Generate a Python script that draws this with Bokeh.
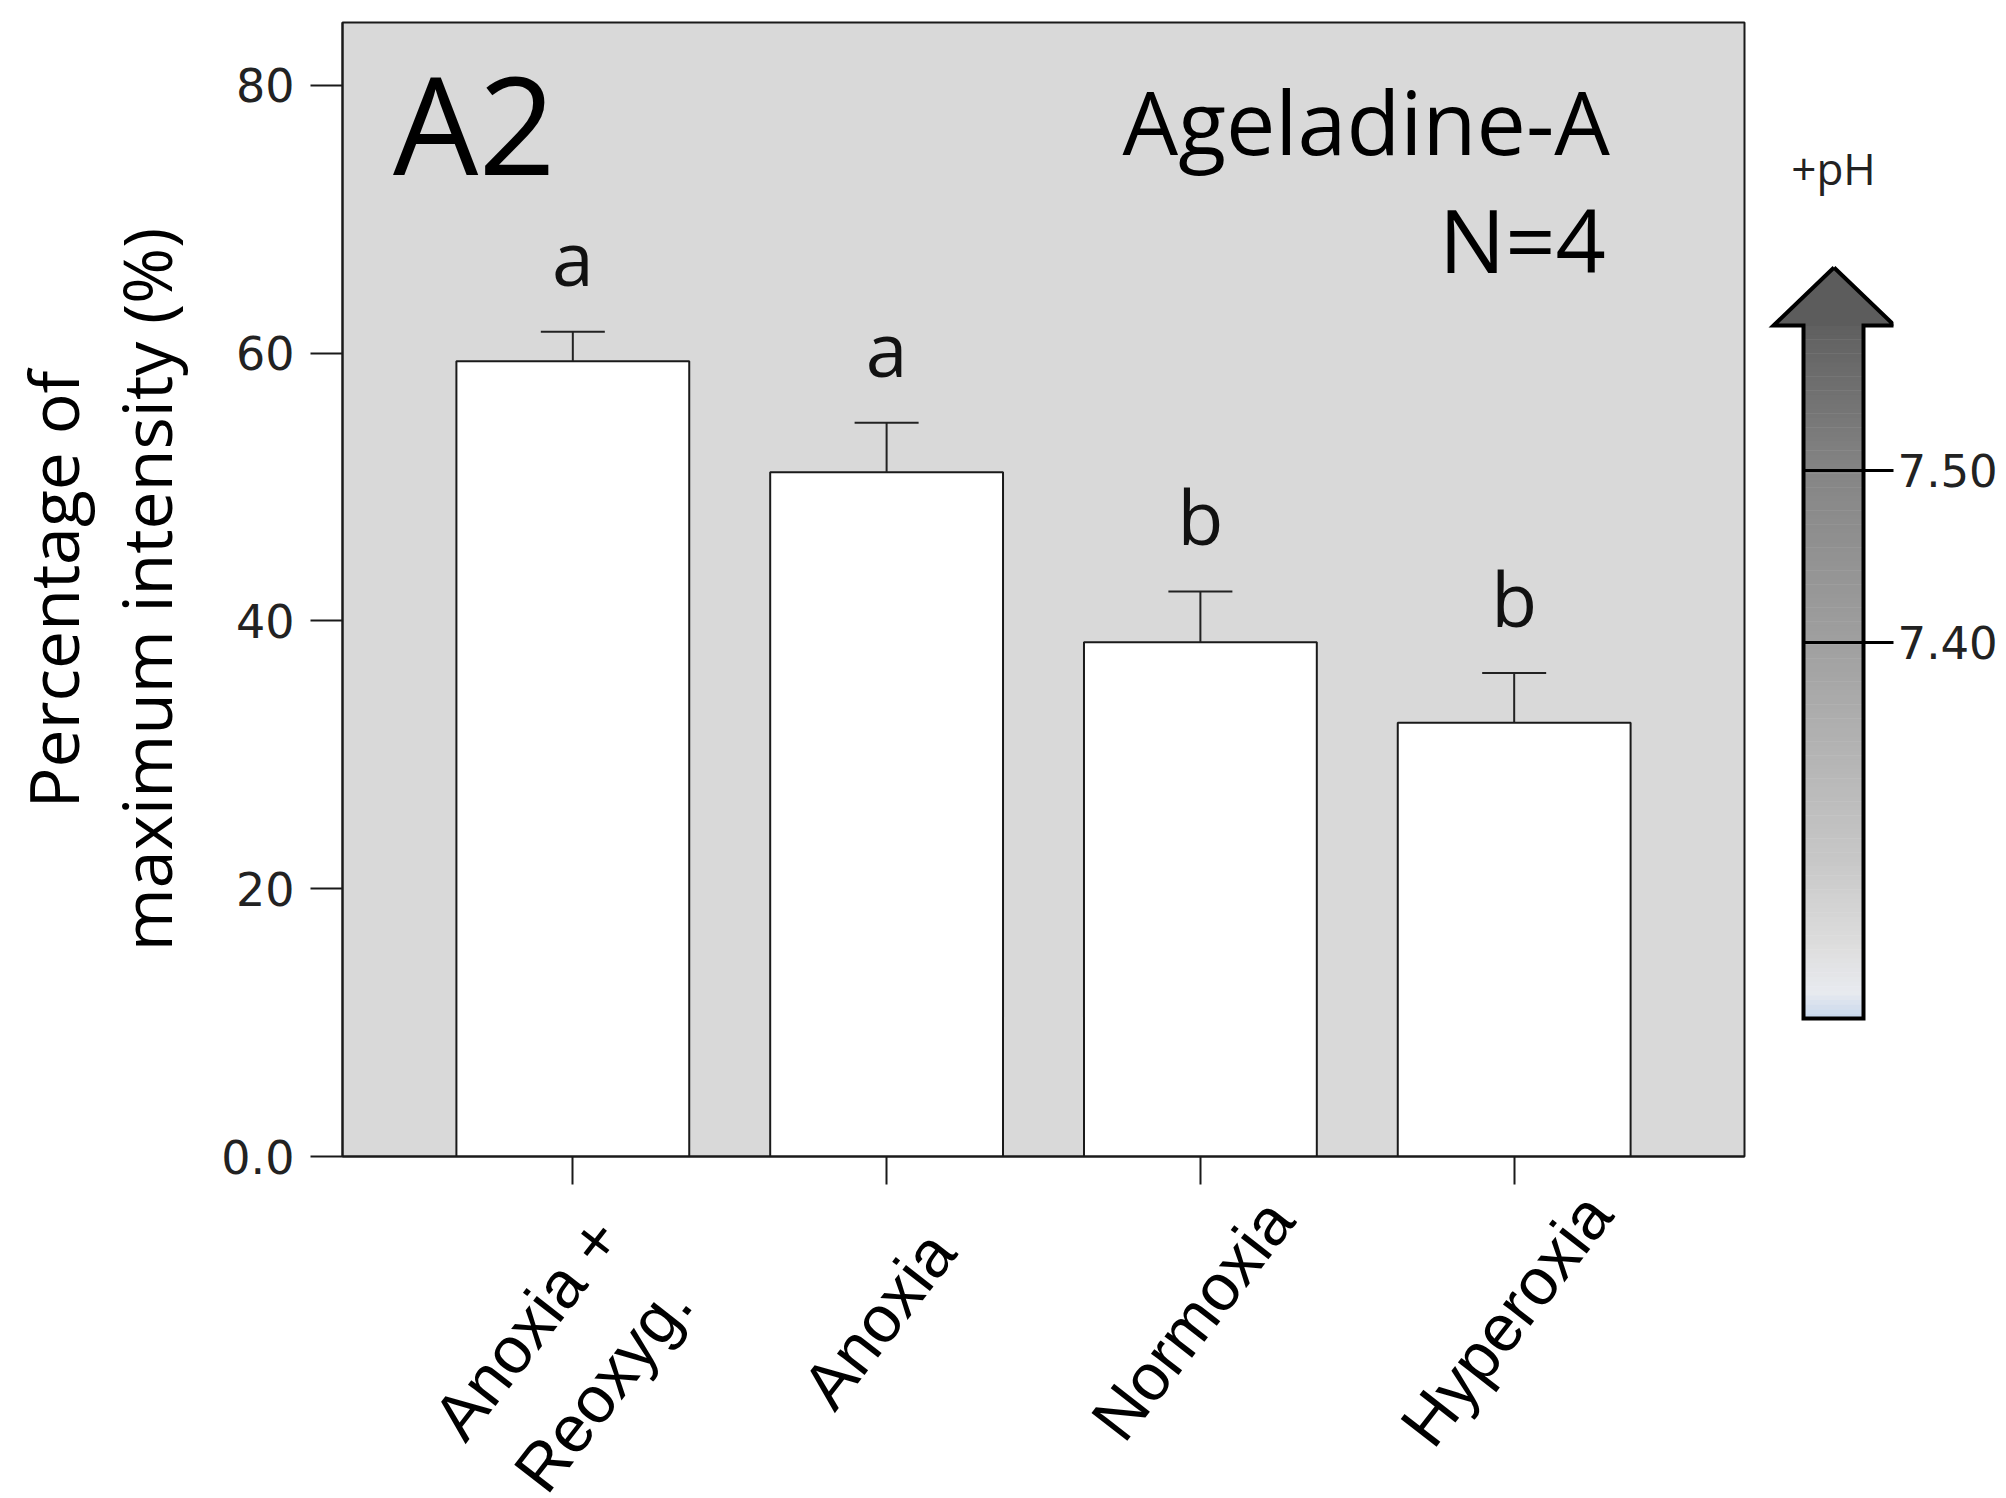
import numpy as np
from bokeh.plotting import figure
from bokeh.models import (Range1d, FactorRange, FixedTicker, Whisker, TeeHead, Label,
                          ColumnDataSource, NumeralTickFormatter)
from bokeh.layouts import row, column
from bokeh.embed import file_html
from bokeh.resources import INLINE
from bokeh.core.properties import value

# ---------------- data ----------------
categories = ["Anoxia +\nReoxyg.", "Anoxia", "Normoxia", "Hyperoxia"]
means = [59.4, 51.1, 38.4, 32.4]
sems = [2.2, 3.7, 3.8, 3.7]
letters = ["a", "a", "b", "b"]
y_ticks = [0, 20, 40, 60, 80]
ph_ticks = [7.40, 7.50]

# ---------------- layout constants ----------------
TOP, LEFT = 22, 342
FRAME_W, FRAME_H = 1402, 1134
BOTTOM = 40                  # space under main frame (ticks)
PAGE_H = 1498
Y_END = 84.69
LABEL_ANGLE = 0.91           # rotation of category labels (rad)
LABEL_DROP = 163             # px from axis to centre of a one-line category label
LABEL_LINE_DROP = 38         # extra px for each further line
R_H = PAGE_H - (TOP + FRAME_H + BOTTOM)

upper = [m + s for m, s in zip(means, sems)]
label_y = [LABEL_DROP + LABEL_LINE_DROP * c.count("\n") - BOTTOM for c in categories]
src = ColumnDataSource(dict(cat=categories, mean=means, upper=upper, letter=letters,
                            label_y=label_y))

# ---------------- main panel ----------------
p = figure(frame_width=FRAME_W, frame_height=FRAME_H,
           min_border_left=LEFT, min_border_right=4, min_border_top=TOP,
           min_border_bottom=BOTTOM,
           x_range=FactorRange(factors=categories, range_padding=0.234,
                               range_padding_units="absolute"),
           y_range=Range1d(0, Y_END),
           output_backend="svg", toolbar_location=None)
p.background_fill_color = "#d9d9d9"
p.border_fill_color = "white"
p.outline_line_color = "#1a1a1a"
p.outline_line_width = 2
p.xgrid.visible = False
p.ygrid.visible = False

p.vbar(x="cat", top="mean", width=0.742, source=src,
       fill_color="white", line_color="#1a1a1a", line_width=2)

p.add_layout(Whisker(base="cat", lower="mean", upper="upper", source=src,
                     line_color="#222222", line_width=2,
                     upper_head=TeeHead(size=64, line_color="#222222", line_width=2),
                     lower_head=None, level="glyph"))

p.text(x="cat", y="upper", text="letter", source=src,
       text_font=value("Open Sans"), text_font_size="75px", text_color="#111111",
       text_align="center", text_baseline="middle", y_offset=-75)

p.add_layout(Label(x=-0.073, y=77.15, text="A2", text_font="Open Sans",
                   text_font_size="135px", text_color="black",
                   text_align="left", text_baseline="middle"))
p.add_layout(Label(x=3.805, y=77.3, text="Ageladine-A", text_font="Open Sans",
                   text_font_size="88px", text_color="black",
                   text_align="right", text_baseline="middle"))
p.add_layout(Label(x=3.792, y=68.5, text="N=4", text_font="Open Sans",
                   text_font_size="88px", text_color="black",
                   text_align="right", text_baseline="middle"))

# y axis
p.yaxis.ticker = FixedTicker(ticks=y_ticks)
p.yaxis.major_label_overrides = {0: "0.0"}
p.yaxis.minor_tick_line_color = None
p.yaxis.major_tick_in = 0
p.yaxis.major_tick_out = 32
p.yaxis.major_tick_line_width = 2
p.yaxis.major_tick_line_color = "#1a1a1a"
p.yaxis.axis_line_color = "#1a1a1a"
p.yaxis.axis_line_width = 2
p.yaxis.major_label_text_font = "DejaVu Sans"
p.yaxis.major_label_text_font_size = "46px"
p.yaxis.major_label_text_color = "#222222"
p.yaxis.major_label_standoff = 16
p.yaxis.axis_label = "Percentage of\nmaximum intensity (%)"
p.yaxis.axis_label_text_font = "Open Sans"
p.yaxis.axis_label_text_font_size = "68px"
p.yaxis.axis_label_text_font_style = "normal"
p.yaxis.axis_label_text_color = "black"
p.yaxis.axis_label_text_line_height = 1.0
p.yaxis.axis_label_standoff = 26

# x axis: ticks here, category names in the strip below
p.xaxis.major_tick_in = 0
p.xaxis.major_tick_out = 28
p.xaxis.major_tick_line_width = 2
p.xaxis.major_tick_line_color = "#1a1a1a"
p.xaxis.axis_line_color = "#1a1a1a"
p.xaxis.axis_line_width = 2
p.xaxis.major_label_text_font_size = "0px"
p.xaxis.major_label_text_alpha = 0
p.xaxis.major_label_standoff = 0

# ---------------- category label strip ----------------
r = figure(frame_width=FRAME_W, frame_height=R_H,
           min_border_left=LEFT, min_border_right=4, min_border_top=0, min_border_bottom=0,
           x_range=p.x_range, y_range=Range1d(R_H, 0),
           x_axis_location=None, y_axis_location=None,
           output_backend="svg", toolbar_location=None)
r.outline_line_color = None
r.xgrid.visible = False
r.ygrid.visible = False
r.background_fill_color = "white"
r.border_fill_color = "white"
r.text(x="cat", y="label_y", text="cat", source=src, angle=LABEL_ANGLE,
       text_font=value("Liberation Sans"), text_font_size="66px", text_color="black",
       text_align="center", text_baseline="middle", text_line_height=1.3, x_offset=-8)

# ---------------- pH arrow panel ----------------
q = figure(frame_width=145, frame_height=FRAME_H,
           min_border_left=0, min_border_right=0, min_border_top=TOP,
           min_border_bottom=BOTTOM,
           x_range=Range1d(1748, 1893), y_range=Range1d(7.1012, 7.7605),
           x_axis_location=None, y_axis_location="right",
           output_backend="svg", toolbar_location=None)
q.extra_y_ranges = {"px": Range1d(TOP + FRAME_H, TOP)}
q.outline_line_color = None
q.xgrid.visible = False
q.ygrid.visible = False
q.background_fill_color = "white"
q.border_fill_color = "white"

# gradient shaft (styling only)
stops_y = [325, 470, 642, 860, 946, 992, 1018]
stops_rgb = [(96, 96, 96), (133, 133, 133), (160, 160, 160), (200, 200, 200),
             (222, 222, 222), (232, 235, 240), (198, 215, 236)]
n = 150
edges = np.linspace(325, 1018, n + 1)
mids = (edges[:-1] + edges[1:]) / 2
cols = []
for m in mids:
    rr = np.interp(m, stops_y, [c[0] for c in stops_rgb])
    gg = np.interp(m, stops_y, [c[1] for c in stops_rgb])
    bb = np.interp(m, stops_y, [c[2] for c in stops_rgb])
    cols.append("#%02x%02x%02x" % (int(rr), int(gg), int(bb)))
q.quad(left=1803, right=1863, top=edges[:-1], bottom=edges[1:] + 0.5,
       fill_color=cols, line_color=None, y_range_name="px")
q.patch(x=[1772, 1833.5, 1895], y=[325.5, 267, 325.5], fill_color="#5c5c5c",
        line_color=None, y_range_name="px")
q.line(x=[1833.5, 1894, 1863, 1863, 1803, 1803, 1773, 1833.5],
       y=[267, 325, 325, 1018, 1018, 325, 325, 267],
       line_color="black", line_width=4, line_join="miter", y_range_name="px")

q.add_layout(Label(x=1833, y=167, y_range_name="px", text="+pH", text_font="Open Sans",
                   text_font_size="44px", text_color="#222222",
                   text_align="center", text_baseline="middle"))

q.yaxis.ticker = FixedTicker(ticks=ph_ticks)
q.yaxis.formatter = NumeralTickFormatter(format="0.00")
q.yaxis.minor_tick_line_color = None
q.yaxis.axis_line_color = None
q.yaxis.major_tick_in = 90
q.yaxis.major_tick_out = 0
q.yaxis.major_tick_line_width = 3
q.yaxis.major_tick_line_color = "black"
q.yaxis.major_label_text_font = "DejaVu Sans"
q.yaxis.major_label_text_font_size = "45px"
q.yaxis.major_label_text_color = "#222222"
q.yaxis.major_label_standoff = 4

layout = column(row(p, q), r)
open("out.html", "w").write(file_html(layout, INLINE))
